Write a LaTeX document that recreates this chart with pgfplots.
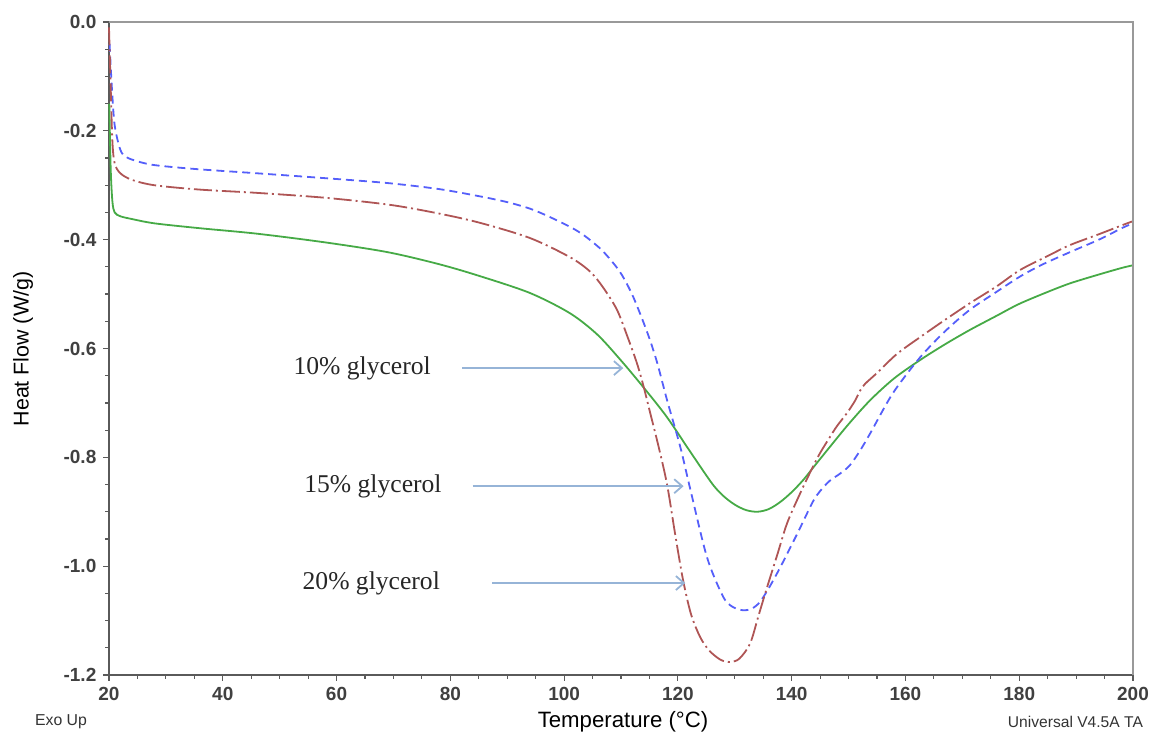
\documentclass[border=0pt]{standalone}
\usepackage{pgfplots}
\pgfplotsset{compat=1.18}
\usepackage{fontspec}
\setmainfont{Liberation Sans}
\newfontfamily\serif{Liberation Serif}
\usetikzlibrary{arrows.meta}
\definecolor{cgreen}{RGB}{70,170,70}
\definecolor{cblue}{RGB}{85,95,250}
\definecolor{cred}{RGB}{175,85,85}
\definecolor{carrow}{RGB}{150,180,215}
\definecolor{axgray}{RGB}{90,90,90}
\begin{document}
\begin{tikzpicture}
\begin{axis}[
  at={(0,0)}, anchor=south west,
  scale only axis, width=512pt, height=326.5pt,
  xmin=20, xmax=200, ymin=-1.2, ymax=0,
  axis x line*=bottom, axis y line*=left,
  axis line style={draw=axgray, line width=0.8pt},
  xtick={20,40,...,200}, minor x tick num=3,
  ytick={-1.2,-1.0,-0.8,-0.6,-0.4,-0.2,0},
  yticklabels={-1.2,-1.0,-0.8,-0.6,-0.4,-0.2,0.0},
  minor y tick num=3,
  tick align=outside, major tick length=2.8pt, minor tick length=1.8pt,
  tick style={draw=axgray, line width=0.6pt},
  /pgf/number format/assume math mode=true,
  ticklabel style={font=\bfseries\fontsize{9.5}{11}\selectfont, text=black!75},
  clip=false,
]
\addplot[cgreen, line width=0.9pt, smooth, tension=0.5] coordinates {
(20.05,-0.15) (20.3,-0.27) (20.6,-0.33) (21,-0.35) (22,-0.357) (24,-0.362)
(28,-0.37) (36,-0.379) (46,-0.389) (58,-0.405) (69,-0.423) (78,-0.445)
(85.2,-0.467) (94,-0.498) (101,-0.535) (105.8,-0.574) (110,-0.622) (114,-0.672)
(118,-0.725) (122,-0.787) (126,-0.848) (128,-0.871) (130,-0.887) (132,-0.897)
(134,-0.900) (136,-0.895) (138,-0.882) (140,-0.864) (142,-0.842) (144,-0.816)
(146.7,-0.781) (150,-0.739) (153.8,-0.695) (158,-0.655) (162.6,-0.621)
(167,-0.592) (171.3,-0.566) (176,-0.54) (180,-0.518) (185,-0.496) (189,-0.48)
(194,-0.464) (198,-0.452) (200,-0.447)
};
\addplot[cblue, line width=0.9pt, smooth, tension=0.5, dash pattern=on 4pt off 2.5pt] coordinates {
(20.1,-0.04) (20.5,-0.12) (21,-0.19) (22,-0.235) (23,-0.248) (25,-0.256)
(28,-0.263) (35,-0.270) (46,-0.278) (58,-0.287) (69,-0.296) (78,-0.307)
(85,-0.320) (90,-0.331) (94,-0.343) (97,-0.356) (99.8,-0.370) (102,-0.382)
(104,-0.396) (106.8,-0.421)
(109.8,-0.459) (112.1,-0.504) (114.6,-0.570) (116.3,-0.624) (118.1,-0.695)
(120.4,-0.78) (122.1,-0.855) (125.1,-0.983) (127.9,-1.055)
(129.5,-1.074) (131.4,-1.081) (133,-1.078) (134.4,-1.066) (136,-1.04)
(138,-1.002) (141,-0.94) (143.7,-0.882) (145,-0.862) (146.7,-0.843)
(148.5,-0.83) (150.2,-0.815) (152,-0.788) (153.8,-0.756) (157.8,-0.682)
(162.6,-0.616) (167,-0.568) (171.3,-0.529) (176,-0.496) (180.1,-0.468)
(184,-0.446) (188.9,-0.423) (194,-0.400) (198.2,-0.378) (200,-0.37)
};
\addplot[cred, line width=0.9pt, smooth, tension=0.5, dash pattern=on 9pt off 2pt on 1pt off 2pt] coordinates {
(20.0,-0.01) (20.3,-0.12) (20.6,-0.22) (21,-0.26) (22,-0.278) (24,-0.29)
(28,-0.30) (36,-0.308) (46,-0.314) (58,-0.323) (69.4,-0.336) (78,-0.352)
(85.2,-0.369) (94,-0.397) (101,-0.432) (104.5,-0.458) (106.8,-0.487)
(109.3,-0.529) (111.2,-0.580) (112.8,-0.627) (113.9,-0.667) (115.1,-0.717)
(116.6,-0.78) (118.1,-0.85) (119.5,-0.94) (120.9,-1.025) (122.3,-1.088)
(123.9,-1.130) (125.5,-1.155) (127.5,-1.172) (129.2,-1.176) (130.8,-1.17)
(132.7,-1.142) (134.2,-1.09) (135.7,-1.038) (137.5,-0.978) (139.2,-0.921)
(141.5,-0.866) (143.7,-0.818) (145,-0.792) (146.7,-0.763) (148,-0.742)
(149.7,-0.719) (151.2,-0.695) (152,-0.678) (152.9,-0.665) (155,-0.645)
(158.5,-0.61) (162.6,-0.579) (167,-0.547) (171.3,-0.517) (176,-0.486)
(180.1,-0.456) (185,-0.43) (188.9,-0.41) (194,-0.39) (198.2,-0.373) (200,-0.366)
};
\draw[draw=black!40, line width=1pt] (rel axis cs:0,1) -- (rel axis cs:1,1) -- (rel axis cs:1,0);
\draw[carrow, line width=0.9pt, -{Straight Barb[length=4pt,width=7pt]}] (axis cs:82.1,-0.636) -- (axis cs:110.4,-0.636);
\draw[carrow, line width=0.9pt, -{Straight Barb[length=4pt,width=7pt]}] (axis cs:83.9,-0.853) -- (axis cs:121.0,-0.853);
\draw[carrow, line width=0.9pt, -{Straight Barb[length=4pt,width=7pt]}] (axis cs:87.4,-1.031) -- (axis cs:121.3,-1.031);
\node[font=\serif\fontsize{12.8}{14}\selectfont, text=black!85] at (axis cs:64.5,-0.636) {10\% glycerol};
\node[font=\serif\fontsize{12.8}{14}\selectfont, text=black!85] at (axis cs:66.4,-0.853) {15\% glycerol};
\node[font=\serif\fontsize{12.8}{14}\selectfont, text=black!85] at (axis cs:66.1,-1.031) {20\% glycerol};
\end{axis}
\node[rotate=90, font=\fontsize{10.7}{12}\selectfont] at (-43pt,163pt) {Heat Flow (W/g)};
\node[font=\fontsize{11.1}{13}\selectfont] at (257pt,-23.5pt) {Temperature (°C)};
\node[font=\fontsize{7.9}{9}\selectfont, text=black!80] at (-24pt,-23.5pt) {Exo Up};
\node[font=\fontsize{7.8}{9}\selectfont, text=black!80, anchor=east] at (520.5pt,-23.5pt) {Universal V4.5A TA};
\pgfresetboundingbox
\path[use as bounding box] (-54.5pt,-30.5pt) rectangle (524pt,337.5pt);
\end{tikzpicture}
\end{document}
